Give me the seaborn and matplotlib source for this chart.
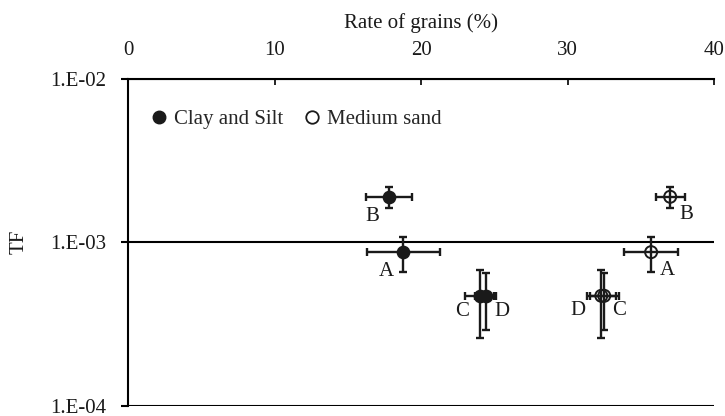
import matplotlib
matplotlib.use("Agg")
import matplotlib.pyplot as plt
from matplotlib.lines import Line2D
from matplotlib.ticker import FixedLocator, FixedFormatter, NullLocator
import numpy as np
import pandas as pd
import seaborn as sns

# Sample identifiers
samples = ["A", "B", "C", "D"]

# Clay and silt fraction: rate of grains (%) and transfer factor
clay_rate = [18.8, 17.8, 24.0, 24.4]
clay_rate_err = [2.5, 1.55, 1.0, 0.7]
clay_tf = [8.7e-4, 1.9e-3, 4.7e-4, 4.7e-4]
clay_tf_err = [2.1e-4, 2.7e-4, 2.1e-4, 1.8e-4]

# Medium sand fraction
sand_rate = [35.7, 37.0, 32.5, 32.3]
sand_rate_err = [1.85, 1.0, 1.0, 1.0]
sand_tf = [8.7e-4, 1.9e-3, 4.7e-4, 4.7e-4]
sand_tf_err = [2.1e-4, 2.7e-4, 1.8e-4, 2.1e-4]

# Axis ticks
x_ticks = [0, 10, 20, 30, 40]
y_ticks = [1e-4, 1e-3, 1e-2]
y_tick_labels = ["1.E-04", "1.E-03", "1.E-02"]

# Label placement around each point (offset points)
clay_label_offsets = [(-12, -14), (-12, -14), (-12.5, -11), (11.5, -11)]
sand_label_offsets = [(12, -13.5), (11.5, -13), (11, -10.5), (-17, -10.5)]

FS = 15
INK = "#1a1a1a"

sns.set_theme(style="white")
plt.rcParams["font.family"] = ["Liberation Serif", "DejaVu Serif"]

df = pd.concat([
    pd.DataFrame({"rate": clay_rate, "tf": clay_tf, "fraction": "Clay and Silt"}),
    pd.DataFrame({"rate": sand_rate, "tf": sand_tf, "fraction": "Medium sand"}),
], ignore_index=True)

fig = plt.figure(figsize=(7.25, 4.16), dpi=100)
ax = fig.add_axes([0.1766, 0.0252, 0.985 - 0.1766, 0.810 - 0.0252])

ax.set_yscale("log")
ax.set_xlim(0, 40)
ax.set_ylim(1e-4, 1e-2)

# horizontal reference lines at each decade
for yv in y_ticks:
    ax.axhline(yv, color="black", lw=1.5, zorder=1)

err_kw = dict(fmt="none", ecolor=INK, elinewidth=1.7, capsize=3, capthick=1.7, zorder=2)
ax.errorbar(clay_rate, clay_tf, xerr=clay_rate_err, yerr=clay_tf_err, **err_kw)
ax.errorbar(sand_rate, sand_tf, xerr=sand_rate_err, yerr=sand_tf_err, **err_kw)

sns.scatterplot(data=df[df.fraction == "Clay and Silt"], x="rate", y="tf", ax=ax,
                marker="o", s=75, color=INK, edgecolor=INK, linewidth=1.2,
                zorder=3, legend=False)
sns.scatterplot(data=df[df.fraction == "Medium sand"], x="rate", y="tf", ax=ax,
                marker="o", s=75, facecolor="none", edgecolor=INK, linewidth=1.4,
                zorder=3, legend=False)

for name, xv, yv, off in zip(samples, clay_rate, clay_tf, clay_label_offsets):
    ax.annotate(name, (xv, yv), xytext=off, textcoords="offset points",
                ha="center", va="center", fontsize=FS, color=INK)
for name, xv, yv, off in zip(samples, sand_rate, sand_tf, sand_label_offsets):
    ax.annotate(name, (xv, yv), xytext=off, textcoords="offset points",
                ha="center", va="center", fontsize=FS, color=INK)

# axes styling
for side in ["right", "bottom"]:
    ax.spines[side].set_visible(False)
for side in ["left", "top"]:
    ax.spines[side].set_color("black")
    ax.spines[side].set_linewidth(1.5)

ax.xaxis.tick_top()
ax.xaxis.set_label_position("top")
ax.xaxis.set_major_locator(FixedLocator(x_ticks))
ax.tick_params(axis="x", which="major", direction="in", length=4, width=1.2,
               color="black", pad=14, labelsize=FS, labelcolor=INK,
               top=True, bottom=False)
ax.set_xlabel("Rate of grains (%)", fontsize=FS, color=INK, labelpad=9)

ax.yaxis.set_major_locator(FixedLocator(y_ticks))
ax.yaxis.set_major_formatter(FixedFormatter(y_tick_labels))
ax.yaxis.set_minor_locator(NullLocator())
ax.tick_params(axis="y", which="major", direction="out", length=5, width=1.5,
               color="black", pad=11, labelsize=FS, labelcolor=INK, left=True)
ax.set_ylabel("TF", fontsize=FS, color=INK, labelpad=15)

handles = [
    Line2D([], [], marker="o", linestyle="none", markersize=9,
           markerfacecolor=INK, markeredgecolor=INK),
    Line2D([], [], marker="o", linestyle="none", markersize=9,
           markerfacecolor="none", markeredgecolor=INK, markeredgewidth=1.3),
]
ax.legend(handles, ["Clay and Silt", "Medium sand"], loc="upper left",
          bbox_to_anchor=(0.0, 0.965), ncol=2, frameon=False, fontsize=FS,
          handletextpad=0.1, columnspacing=0.8, handlelength=1.2, borderaxespad=0.5)

fig.savefig("out.png", dpi=100)
